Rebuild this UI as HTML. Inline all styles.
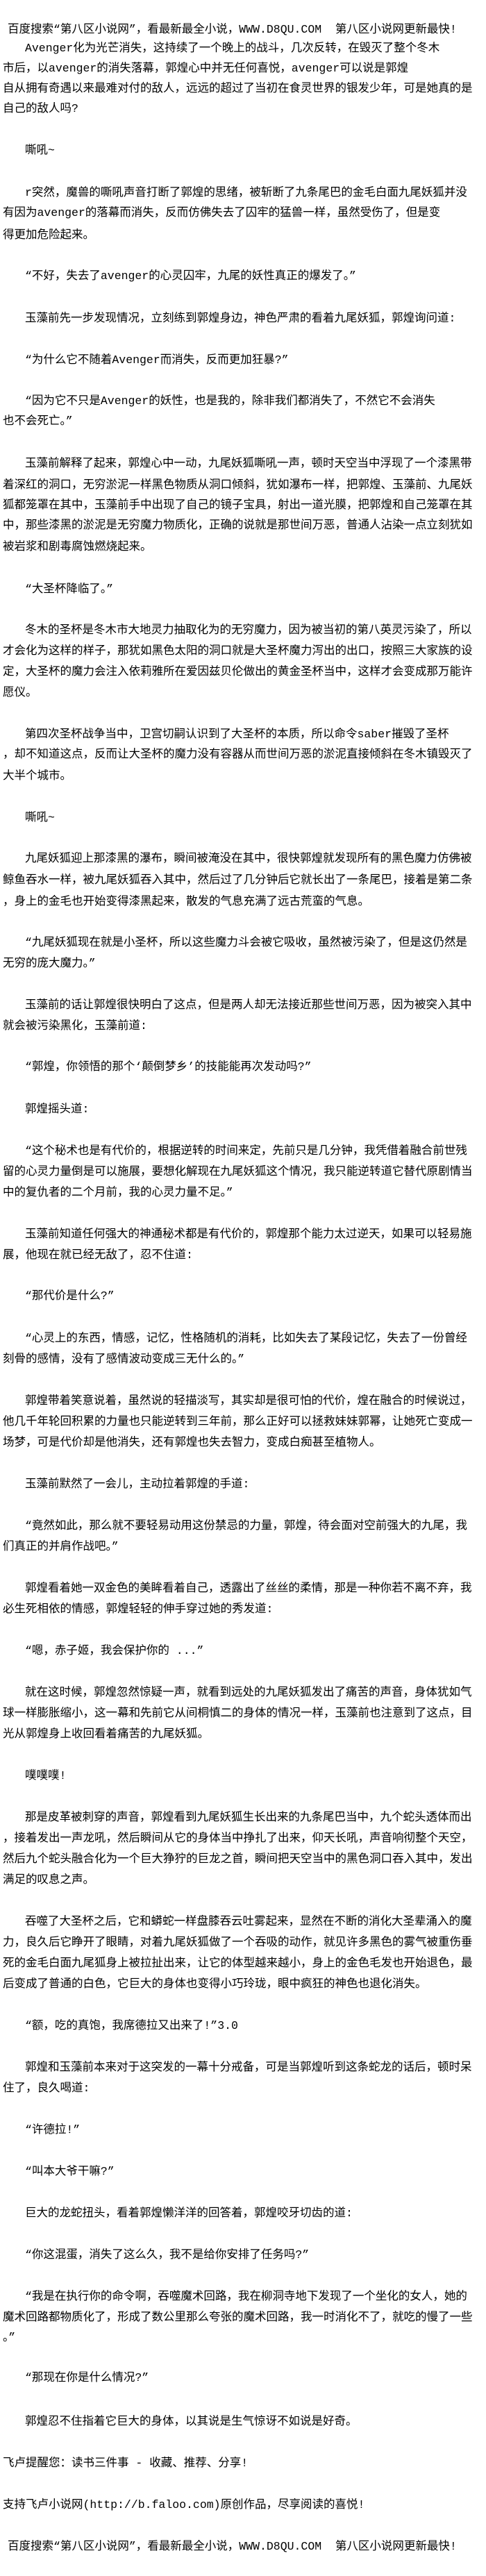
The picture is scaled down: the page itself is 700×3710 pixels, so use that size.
<!DOCTYPE html>
<html><head><meta charset="utf-8"><style>
html,body{margin:0;padding:0;background:#fff;}
body{width:700px;height:3710px;position:relative;overflow:hidden;font-family:"Liberation Mono","Noto Sans CJK SC",monospace;font-size:16.5px;color:#000;}
.l{position:absolute;left:4px;height:30px;line-height:30px;white-space:nowrap;}
.i{left:36px;}
.h{left:11px;}
</style></head><body>
<div class="l h" style="top:28px">百度搜索“第八区小说网”，看最新最全小说，WWW.D8QU.COM&nbsp;&nbsp;第八区小说网更新最快!</div>
<div class="l i" style="top:55px">Avenger化为光芒消失，这持续了一个晚上的战斗，几次反转，在毁灭了整个冬木</div>
<div class="l" style="top:84px">市后，以avenger的消失落幕，郭煌心中并无任何喜悦，avenger可以说是郭煌</div>
<div class="l" style="top:113px">自从拥有奇遇以来最难对付的敌人，远远的超过了当初在食灵世界的银发少年，可是她真的是</div>
<div class="l" style="top:142px">自己的敌人吗?</div>
<div class="l i" style="top:202px">嘶吼~</div>
<div class="l i" style="top:263px">r突然，魔兽的嘶吼声音打断了郭煌的思绪，被斩断了九条尾巴的金毛白面九尾妖狐并没</div>
<div class="l" style="top:292px">有因为avenger的落幕而消失，反而仿佛失去了囚牢的猛兽一样，虽然受伤了，但是变</div>
<div class="l" style="top:324px">得更加危险起来。</div>
<div class="l i" style="top:383px">“不好，失去了avenger的心灵囚牢，九尾的妖性真正的爆发了。”</div>
<div class="l i" style="top:444px">玉藻前先一步发现情况，立刻练到郭煌身边，神色严肃的看着九尾妖狐，郭煌询问道:</div>
<div class="l i" style="top:504px">“为什么它不随着Avenger而消失，反而更加狂暴?”</div>
<div class="l i" style="top:563px">“因为它不只是Avenger的妖性，也是我的，除非我们都消失了，不然它不会消失</div>
<div class="l" style="top:592px">也不会死亡。”</div>
<div class="l i" style="top:653px">玉藻前解释了起来，郭煌心中一动，九尾妖狐嘶吼一声，顿时天空当中浮现了一个漆黑带</div>
<div class="l" style="top:684px">着深红的洞口，无穷淤泥一样黑色物质从洞口倾斜，犹如瀑布一样，把郭煌、玉藻前、九尾妖</div>
<div class="l" style="top:713px">狐都笼罩在其中，玉藻前手中出现了自己的镜子宝具，射出一道光膜，把郭煌和自己笼罩在其</div>
<div class="l" style="top:742px">中，那些漆黑的淤泥是无穷魔力物质化，正确的说就是那世间万恶，普通人沾染一点立刻犹如</div>
<div class="l" style="top:773px">被岩浆和剧毒腐蚀燃烧起来。</div>
<div class="l i" style="top:834px">“大圣杯降临了。”</div>
<div class="l i" style="top:893px">冬木的圣杯是冬木市大地灵力抽取化为的无穷魔力，因为被当初的第八英灵污染了，所以</div>
<div class="l" style="top:923px">才会化为这样的样子，那犹如黑色太阳的洞口就是大圣杯魔力泻出的出口，按照三大家族的设</div>
<div class="l" style="top:953px">定，大圣杯的魔力会注入依莉雅所在爱因兹贝伦做出的黄金圣杯当中，这样才会变成那万能许</div>
<div class="l" style="top:983px">愿仪。</div>
<div class="l i" style="top:1043px">第四次圣杯战争当中，卫宫切嗣认识到了大圣杯的本质，所以命令saber摧毁了圣杯</div>
<div class="l" style="top:1072px">，却不知道这点，反而让大圣杯的魔力没有容器从而世间万恶的淤泥直接倾斜在冬木镇毁灭了</div>
<div class="l" style="top:1103px">大半个城市。</div>
<div class="l i" style="top:1163px">嘶吼~</div>
<div class="l i" style="top:1222px">九尾妖狐迎上那漆黑的瀑布，瞬间被淹没在其中，很快郭煌就发现所有的黑色魔力仿佛被</div>
<div class="l" style="top:1253px">鲸鱼吞水一样，被九尾妖狐吞入其中，然后过了几分钟后它就长出了一条尾巴，接着是第二条</div>
<div class="l" style="top:1284px">，身上的金毛也开始变得漆黑起来，散发的气息充满了远古荒蛮的气息。</div>
<div class="l i" style="top:1343px">“九尾妖狐现在就是小圣杯，所以这些魔力斗会被它吸收，虽然被污染了，但是这仍然是</div>
<div class="l" style="top:1373px">无穷的庞大魔力。”</div>
<div class="l i" style="top:1433px">玉藻前的话让郭煌很快明白了这点，但是两人却无法接近那些世间万恶，因为被突入其中</div>
<div class="l" style="top:1463px">就会被污染黑化，玉藻前道:</div>
<div class="l i" style="top:1522px">“郭煌，你领悟的那个‘颠倒梦乡’的技能能再次发动吗?”</div>
<div class="l i" style="top:1583px">郭煌摇头道:</div>
<div class="l i" style="top:1643px">“这个秘术也是有代价的，根据逆转的时间来定，先前只是几分钟，我凭借着融合前世残</div>
<div class="l" style="top:1673px">留的心灵力量倒是可以施展，要想化解现在九尾妖狐这个情况，我只能逆转道它替代原剧情当</div>
<div class="l" style="top:1703px">中的复仇者的二个月前，我的心灵力量不足。”</div>
<div class="l i" style="top:1763px">玉藻前知道任何强大的神通秘术都是有代价的，郭煌那个能力太过逆天，如果可以轻易施</div>
<div class="l" style="top:1793px">展，他现在就已经无敌了，忍不住道:</div>
<div class="l i" style="top:1852px">“那代价是什么?”</div>
<div class="l i" style="top:1913px">“心灵上的东西，情感，记忆，性格随机的消耗，比如失去了某段记忆，失去了一份曾经</div>
<div class="l" style="top:1943px">刻骨的感情，没有了感情波动变成三无什么的。”</div>
<div class="l i" style="top:2003px">郭煌带着笑意说着，虽然说的轻描淡写，其实却是很可怕的代价，煌在融合的时候说过，</div>
<div class="l" style="top:2033px">他几千年轮回积累的力量也只能逆转到三年前，那么正好可以拯救妹妹郭幂，让她死亡变成一</div>
<div class="l" style="top:2063px">场梦，可是代价却是他消失，还有郭煌也失去智力，变成白痴甚至植物人。</div>
<div class="l i" style="top:2123px">玉藻前默然了一会儿，主动拉着郭煌的手道:</div>
<div class="l i" style="top:2183px">“竟然如此，那么就不要轻易动用这份禁忌的力量，郭煌，待会面对空前强大的九尾，我</div>
<div class="l" style="top:2213px">们真正的并肩作战吧。”</div>
<div class="l i" style="top:2273px">郭煌看着她一双金色的美眸看着自己，透露出了丝丝的柔情，那是一种你若不离不弃，我</div>
<div class="l" style="top:2303px">必生死相依的情感，郭煌轻轻的伸手穿过她的秀发道:</div>
<div class="l i" style="top:2363px">“嗯，赤子姬，我会保护你的 ...”</div>
<div class="l i" style="top:2423px">就在这时候，郭煌忽然惊疑一声，就看到远处的九尾妖狐发出了痛苦的声音，身体犹如气</div>
<div class="l" style="top:2453px">球一样膨胀缩小，这一幕和先前它从间桐慎二的身体的情况一样，玉藻前也注意到了这点，目</div>
<div class="l" style="top:2483px">光从郭煌身上收回看着痛苦的九尾妖狐。</div>
<div class="l i" style="top:2543px">噗噗噗!</div>
<div class="l i" style="top:2603px">那是皮革被刺穿的声音，郭煌看到九尾妖狐生长出来的九条尾巴当中，九个蛇头透体而出</div>
<div class="l" style="top:2633px">，接着发出一声龙吼，然后瞬间从它的身体当中挣扎了出来，仰天长吼，声音响彻整个天空，</div>
<div class="l" style="top:2663px">然后九个蛇头融合化为一个巨大狰狞的巨龙之首，瞬间把天空当中的黑色洞口吞入其中，发出</div>
<div class="l" style="top:2693px">满足的叹息之声。</div>
<div class="l i" style="top:2753px">吞噬了大圣杯之后，它和蟒蛇一样盘膝吞云吐雾起来，显然在不断的消化大圣辈涌入的魔</div>
<div class="l" style="top:2783px">力，良久后它睁开了眼睛，对着九尾妖狐做了一个吞吸的动作，就见许多黑色的雾气被重伤垂</div>
<div class="l" style="top:2813px">死的金毛白面九尾狐身上被拉扯出来，让它的体型越来越小，身上的金色毛发也开始退色，最</div>
<div class="l" style="top:2843px">后变成了普通的白色，它巨大的身体也变得小巧玲珑，眼中疯狂的神色也退化消失。</div>
<div class="l i" style="top:2903px">“额，吃的真饱，我席德拉又出来了!”3.0</div>
<div class="l i" style="top:2963px">郭煌和玉藻前本来对于这突发的一幕十分戒备，可是当郭煌听到这条蛇龙的话后，顿时呆</div>
<div class="l" style="top:2993px">住了，良久喝道:</div>
<div class="l i" style="top:3053px">“许德拉!”</div>
<div class="l i" style="top:3113px">“叫本大爷干嘛?”</div>
<div class="l i" style="top:3173px">巨大的龙蛇扭头，看着郭煌懒洋洋的回答着，郭煌咬牙切齿的道:</div>
<div class="l i" style="top:3233px">“你这混蛋，消失了这么久，我不是给你安排了任务吗?”</div>
<div class="l i" style="top:3293px">“我是在执行你的命令啊，吞噬魔术回路，我在柳洞寺地下发现了一个坐化的女人，她的</div>
<div class="l" style="top:3323px">魔术回路都物质化了，形成了数公里那么夸张的魔术回路，我一时消化不了，就吃的慢了一些</div>
<div class="l" style="top:3352px">。”</div>
<div class="l i" style="top:3410px">“那现在你是什么情况?”</div>
<div class="l i" style="top:3473px">郭煌忍不住指着它巨大的身体，以其说是生气惊讶不如说是好奇。</div>
<div class="l" style="top:3533px">飞卢提醒您：读书三件事 - 收藏、推荐、分享!</div>
<div class="l" style="top:3593px">支持飞卢小说网(http://b.faloo.com)原创作品，尽享阅读的喜悦!</div>
<div class="l h" style="top:3653px">百度搜索“第八区小说网”，看最新最全小说，WWW.D8QU.COM&nbsp;&nbsp;第八区小说网更新最快!</div>
</body></html>
